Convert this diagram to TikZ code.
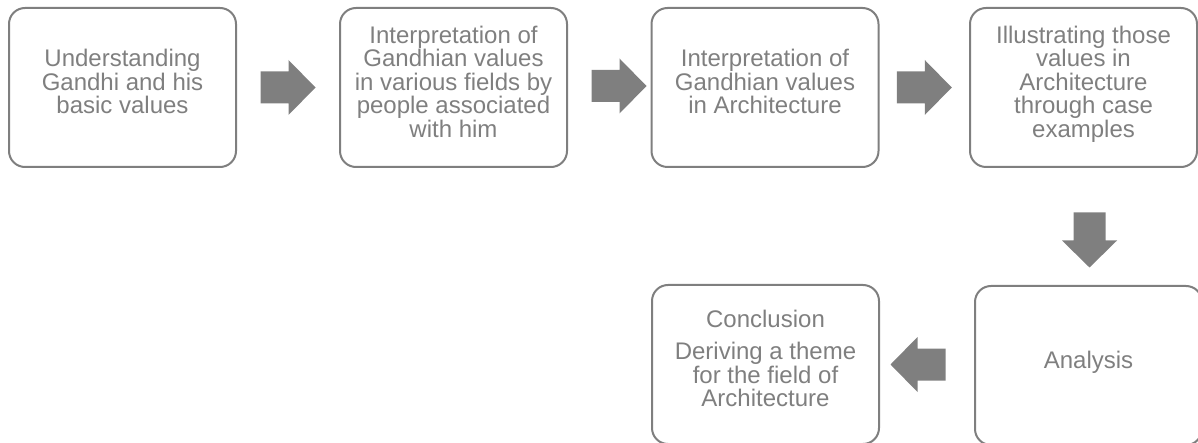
\documentclass[tikz,border=0pt]{standalone}
\usepackage{fontspec}
\setmainfont{Liberation Sans}
\usetikzlibrary{calc}
\definecolor{stepgray}{HTML}{7F7F7F}
\newcommand\stepfont{\fontsize{24}{23.5}\selectfont\lineskiplimit=-20pt\relax}
\tikzset{
  stepbox/.style={draw=stepgray, line width=2pt, rounded corners=16pt,
    minimum width=227pt, minimum height=159pt, inner sep=4pt, align=center,
    text depth=12pt, text=stepgray, font=\stepfont},
  blockarrow/.pic={\fill[stepgray] (-27.5,16) -- (0.5,16) -- (0.5,27.5) -- (27.5,0)
    -- (0.5,-27.5) -- (0.5,-16) -- (-27.5,-16) -- cycle;}
}
\begin{document}
\begin{tikzpicture}[x=1pt, y=1pt]
\useasboundingbox (0,0) rectangle (1198,-443);
\node[stepbox] (b1) at (122.5,-87.5) {Understanding\\Gandhi and his\\basic values};
\node[stepbox] (b2) at (453.5,-87.5) {Interpretation of\\Gandhian values\\in various fields by\\people associated\\with him};
\node[stepbox] (b3) at (765,-87.5) {Interpretation of\\Gandhian values\\in Architecture};
\node[stepbox] (b4) at (1083.5,-87.5) {Illustrating those\\values in\\Architecture\\through case\\examples};
\node[stepbox] (b5) at (1088.5,-365.5) {Analysis};
\node[stepbox] (b6) at (765.5,-364.5) {Conclusion\\[9pt]Deriving a theme\\for the field of\\Architecture};
\pic at ($(b1.east)!0.5!(b2.west)$) {blockarrow};
\pic at (619,-86) {blockarrow};
\pic at ($(b3.east)!0.5!(b4.west)$) {blockarrow};
\pic[rotate=-90] at (1089.5,-240) {blockarrow};
\pic[rotate=180] at (918,-364.5) {blockarrow};
\end{tikzpicture}
\end{document}
